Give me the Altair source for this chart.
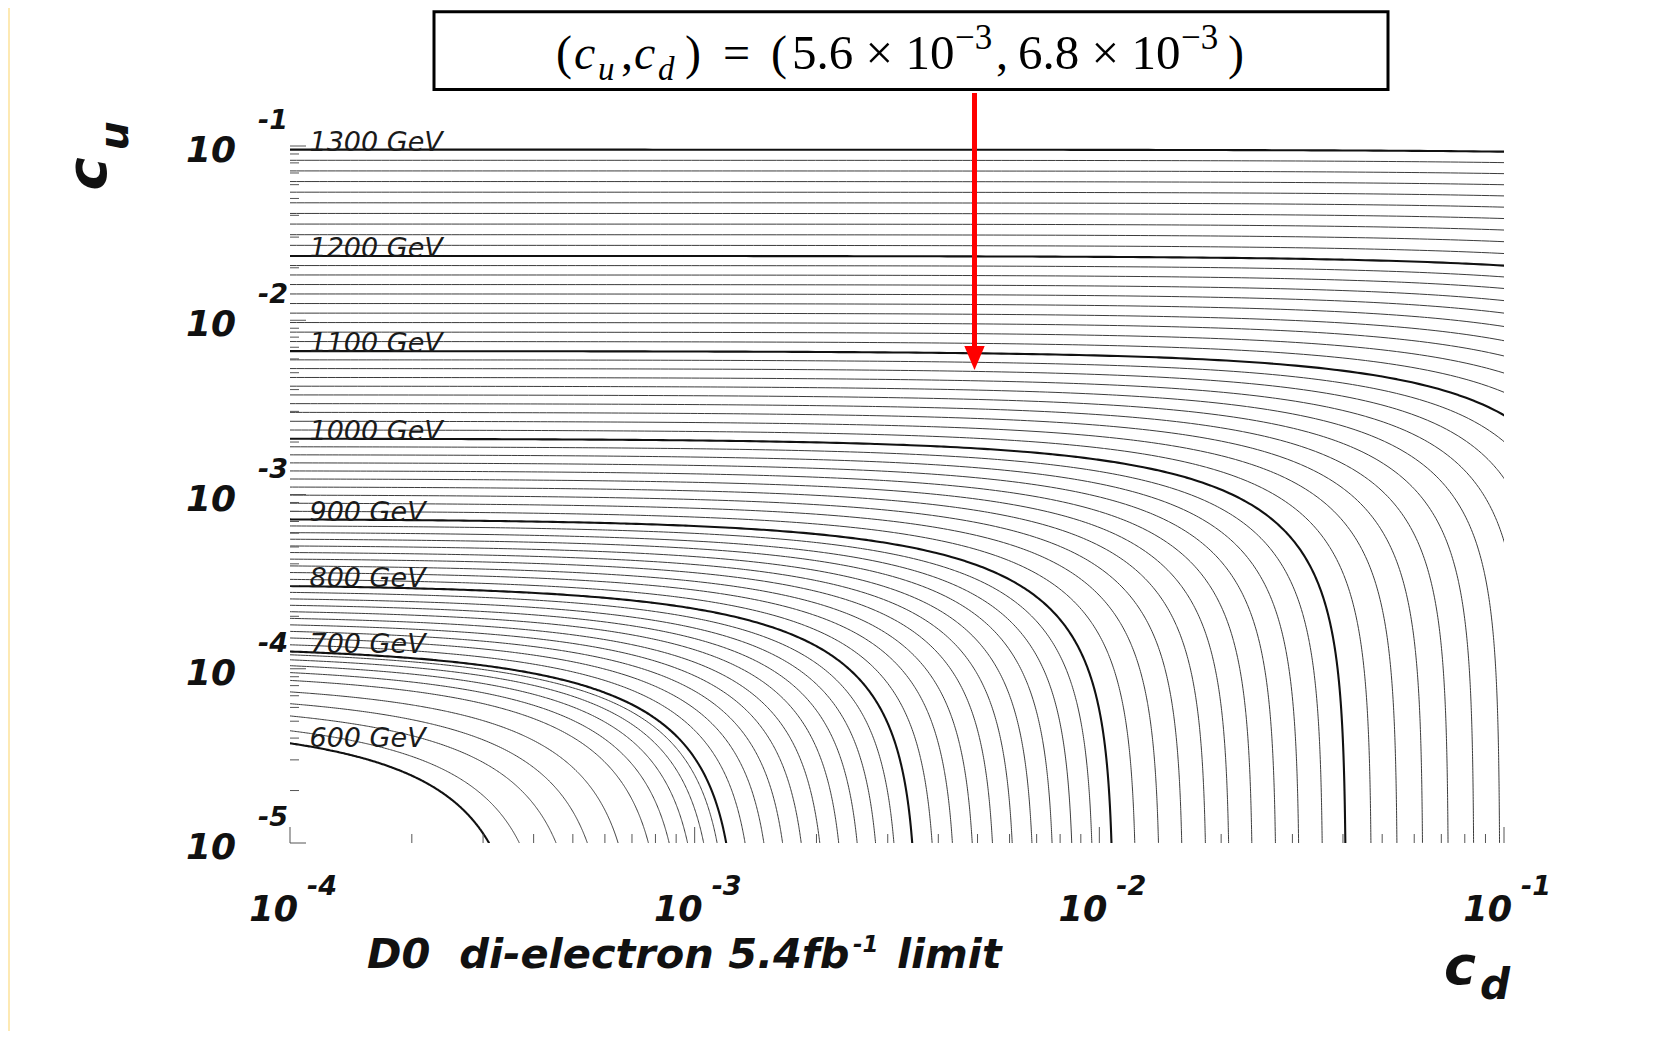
import altair as alt
import numpy as np
import pandas as pd

# ---------------- data ----------------
masses = list(range(600, 1310, 10))
# log10 of the horizontal asymptote (c_u where c_d -> 0) of each mass contour
log_cu_asym = [
    -4.298, -4.246, -4.181, -4.125, -4.069, -4.013, -3.974, -3.939, -3.909, -3.883,
    -3.866, -3.831, -3.795, -3.760, -3.725, -3.690, -3.654, -3.619, -3.584, -3.548,
    -3.513, -3.476, -3.438, -3.401, -3.363, -3.326, -3.289, -3.251, -3.214, -3.176,
    -3.139, -3.093, -3.047, -3.001, -2.955, -2.909, -2.863, -2.817, -2.771, -2.725,
    -2.679, -2.629, -2.579, -2.528, -2.478, -2.428, -2.378, -2.328, -2.277, -2.227,
    -2.177, -2.122, -2.068, -2.013, -1.959, -1.904, -1.849, -1.795, -1.740, -1.686,
    -1.631, -1.570, -1.509, -1.448, -1.387, -1.326, -1.265, -1.204, -1.143, -1.082,
    -1.021,
]
# log10 of the c_d intercept (c_d where c_u -> 0) of each mass contour
log_cd_asym = [
    -3.412, -3.349, -3.271, -3.203, -3.135, -3.067, -3.020, -2.978, -2.941, -2.910,
    -2.889, -2.845, -2.801, -2.757, -2.713, -2.669, -2.624, -2.580, -2.536, -2.492,
    -2.448, -2.400, -2.351, -2.303, -2.254, -2.206, -2.158, -2.109, -2.061, -2.012,
    -1.964, -1.907, -1.849, -1.792, -1.734, -1.677, -1.620, -1.562, -1.505, -1.447,
    -1.390, -1.327, -1.263, -1.200, -1.137, -1.074, -1.010, -0.947, -0.884, -0.820,
    -0.757, -0.689, -0.621, -0.553, -0.485, -0.418, -0.350, -0.282, -0.214, -0.146,
    -0.078, -0.012, 0.054, 0.120, 0.186, 0.252, 0.317, 0.383, 0.449, 0.515,
    0.581,
]
label_masses = [600, 700, 800, 900, 1000, 1100, 1200, 1300]
x_decades = [1e-4, 1e-3, 1e-2, 1e-1]
x_exps = ["-4", "-3", "-2", "-1"]
y_decades = [1e-1, 1e-2, 1e-3, 1e-4, 1e-5]
y_exps = ["-1", "-2", "-3", "-4", "-5"]
minor_mult = [2, 3, 4, 5, 6, 7, 8, 9]

X0, X1 = 1e-4, 1e-1
Y0, Y1 = 1e-5, 1e-1

# ---------------- layout (plot area placed on the page) ----------------
PX, PY = 290, 146          # page position of plot origin
W, H = 1214, 697
PAD = {"left": PX - 8, "top": PY - 8, "right": 148, "bottom": 188}

def rx(px):
    return px - PX

def ry(py):
    return py - PY

# ---------------- contour geometry ----------------
rows = []
for m, lu, ld in zip(masses, log_cu_asym, log_cd_asym):
    Cu, Cd = 10 ** lu, 10 ** ld
    cd_end = Cd * (1 - Y0 * 0.9 / Cu)
    a = np.logspace(np.log10(X0 * 0.95), np.log10(min(X1 * 1.05, cd_end)), 160)
    pts = [(d, Cu * (1 - d / Cd)) for d in a]
    cu_start = Cu * (1 - X0 * 0.95 / Cd)
    b = np.logspace(np.log10(Y0 * 0.9), np.log10(cu_start), 160)
    pts += [(Cd * (1 - u / Cu), u) for u in b]
    pts = [(d, u) for d, u in pts
           if X0 * 0.95 <= d <= X1 * 1.05 and Y0 * 0.9 <= u <= Y1 * 1.05]
    pts.sort()
    for i, (d, u) in enumerate(pts):
        rows.append({"m": m, "cd": d, "cu": u, "i": i, "bold": m % 100 == 0})
df = pd.DataFrame(rows)

xscale = alt.Scale(type="log", domain=[X0, X1], nice=False, zero=False)
yscale = alt.Scale(type="log", domain=[Y0, Y1], nice=False, zero=False)

enc = dict(
    x=alt.X("cd:Q", scale=xscale, axis=None),
    y=alt.Y("cu:Q", scale=yscale, axis=None),
    detail="m:N",
    order="i:Q",
)
thin = alt.Chart(df[~df.bold]).mark_line(clip=True, color="#3c3c3c", strokeWidth=1.0).encode(**enc)
bold = alt.Chart(df[df.bold]).mark_line(clip=True, color="#111111", strokeWidth=2.1).encode(**enc)

# contour labels
lab_x = 19.5
lab_cd = 10 ** (-4 + lab_x / (W / 3))
lab_rows = []
for m in label_masses:
    k = masses.index(m)
    Cu, Cd = 10 ** log_cu_asym[k], 10 ** log_cd_asym[k]
    lab_rows.append({"cu": Cu * (1 - lab_cd / Cd), "t": f"{m} GeV"})
labels = alt.Chart(pd.DataFrame(lab_rows)).mark_text(
    align="left", baseline="alphabetic", dy=1, font="DejaVu Sans",
    fontStyle="italic", fontSize=27, color="#1a1a1a"
).encode(x=alt.value(lab_x), y=alt.Y("cu:Q", scale=yscale), text="t:N")

# ---------------- ticks ----------------
minor_x = [mm * d for d in x_decades[:-1] for mm in minor_mult]
minor_y = [mm * d for d in y_decades[1:] for mm in minor_mult]
tick_col = "#555555"
xt_minor = alt.Chart(pd.DataFrame({"v": minor_x})).mark_rule(color=tick_col, strokeWidth=1).encode(
    x=alt.X("v:Q", scale=xscale), y=alt.value(H), y2=alt.value(H - 9))
xt_major = alt.Chart(pd.DataFrame({"v": x_decades})).mark_rule(color=tick_col, strokeWidth=1).encode(
    x=alt.X("v:Q", scale=xscale), y=alt.value(H), y2=alt.value(H - 16))
yt_minor = alt.Chart(pd.DataFrame({"v": minor_y})).mark_rule(color=tick_col, strokeWidth=1).encode(
    y=alt.Y("v:Q", scale=yscale), x=alt.value(0), x2=alt.value(9))
yt_major = alt.Chart(pd.DataFrame({"v": y_decades})).mark_rule(color=tick_col, strokeWidth=1).encode(
    y=alt.Y("v:Q", scale=yscale), x=alt.value(0), x2=alt.value(16))

tick_font = dict(font="DejaVu Sans", fontStyle="italic", fontWeight="bold", color="#111")
xlab_df = pd.DataFrame({"v": x_decades, "b": ["10"] * 4, "e": x_exps})
x_base = alt.Chart(xlab_df).mark_text(align="right", baseline="alphabetic", dx=8, fontSize=35, **tick_font).encode(
    x=alt.X("v:Q", scale=xscale), y=alt.value(ry(921)), text="b:N")
x_sup = alt.Chart(xlab_df).mark_text(align="left", baseline="alphabetic", dx=17, fontSize=27, **tick_font).encode(
    x=alt.X("v:Q", scale=xscale), y=alt.value(ry(895)), text="e:N")
ylab_df = pd.DataFrame({"v": y_decades, "b": ["10"] * 5, "e": y_exps})
y_base = alt.Chart(ylab_df).mark_text(align="right", baseline="alphabetic", dy=16, fontSize=36, **tick_font).encode(
    y=alt.Y("v:Q", scale=yscale), x=alt.value(rx(236)), text="b:N")
y_sup = alt.Chart(ylab_df).mark_text(align="left", baseline="alphabetic", dy=-17, fontSize=27, **tick_font).encode(
    y=alt.Y("v:Q", scale=yscale), x=alt.value(rx(258)), text="e:N")

# ---------------- free text ----------------
def text_layer(items, style, angle=0, align="left", color="#111"):
    d = pd.DataFrame(items, columns=["t", "px", "py", "fs"])
    d["px"] = d["px"].map(rx)
    d["py"] = d["py"].map(ry)
    return alt.Chart(d).mark_text(align=align, baseline="alphabetic", angle=angle, color=color, **style).encode(
        x=alt.X("px:Q", scale=None), y=alt.Y("py:Q", scale=None),
        size=alt.Size("fs:Q", scale=None, legend=None), text="t:N")

bi = dict(font="DejaVu Sans", fontStyle="italic", fontWeight="bold")
x_title = text_layer([
    ("D0\u00a0 di-electron 5.4fb", 367, 968, 41.5),
    ("-1", 853, 952, 23),
    ("limit", 897, 968, 41),
    ("c", 1444, 984, 54),
    ("d", 1480, 999, 42),
], bi)
y_title = text_layer([
    ("c", 106, 174, 56),
    ("u", 128, 136, 41),
], bi, angle=270, align="center")

serif = dict(font="Liberation Serif")
serif_i = dict(font="Liberation Serif", fontStyle="italic")
box = alt.Chart(pd.DataFrame({"a": [0]})).mark_rect(fill="white", stroke="black", strokeWidth=3).encode(
    x=alt.value(rx(434)), x2=alt.value(rx(1388)), y=alt.value(ry(11.7)), y2=alt.value(ry(89.4)))
title_up = text_layer([
    ("(", 556, 69, 48), (",", 621, 69, 48), (")", 685, 69, 48), ("=", 723, 69, 48),
    ("(", 771, 69, 48), ("5.6 \u00d7 10", 792, 69, 49), ("\u22123", 955, 49, 35),
    (",", 996, 69, 48), ("6.8 \u00d7 10", 1018, 69, 49), ("\u22123", 1181, 49, 35),
    (")", 1228, 69, 48),
], serif, color="black")
title_it = text_layer([
    ("c", 574, 69, 48), ("u", 598, 80, 33), ("c", 634, 69, 48), ("d", 658, 80, 33),
], serif_i, color="black")

arrow_line = alt.Chart(pd.DataFrame({"a": [0]})).mark_rule(color="#ff0000", strokeWidth=5).encode(
    x=alt.value(rx(974.5)), y=alt.value(ry(93)), y2=alt.value(ry(350)))
arrow_head = alt.Chart(pd.DataFrame({"a": [0]})).mark_point(
    shape="M -0.85 -1 L 0.85 -1 L 0 1 Z", filled=True, color="#ff0000", size=576, opacity=1
).encode(x=alt.value(rx(974.5)), y=alt.value(ry(358)))

backdrop = alt.Chart(pd.DataFrame({"a": [0]})).mark_rect(fill="white").encode(
    x=alt.value(-PAD["left"] + 2), x2=alt.value(W + PAD["right"] + 2),
    y=alt.value(-PAD["top"] - 2), y2=alt.value(H + PAD["bottom"] + 2))

chart = alt.layer(
    backdrop, thin, bold, labels,
    xt_minor, xt_major, yt_minor, yt_major,
    x_base, x_sup, y_base, y_sup, x_title, y_title,
    box, title_up, title_it, arrow_line, arrow_head,
).properties(
    width=W, height=H,
    autosize=alt.AutoSizeParams(type="none"),
    padding=PAD,
    background="#fde9b3",
).configure_view(stroke="#555555", strokeWidth=1.5)

chart.save("out.html", embed_options={"renderer": "svg", "actions": False})
